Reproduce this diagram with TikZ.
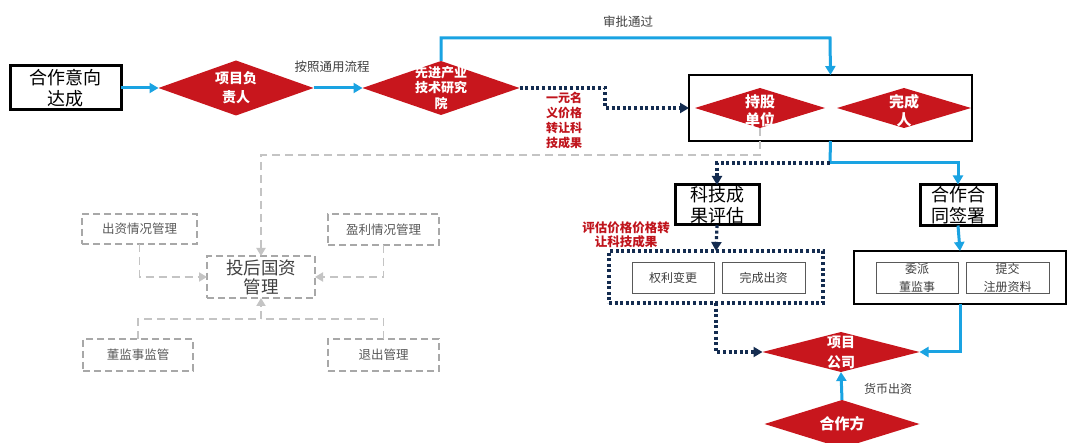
\documentclass[tikz,border=0pt]{standalone}
\usepackage{fontspec}
\setmainfont{Noto Sans CJK SC}
\usetikzlibrary{shapes.geometric,arrows.meta,calc}
\definecolor{cblue}{HTML}{1AA3E2}
\definecolor{cred}{HTML}{C8161D}
\definecolor{cnavy}{HTML}{142C50}
\definecolor{clab}{HTML}{C0141C}
\definecolor{cgl}{HTML}{C4C4C4}
\definecolor{cgb}{HTML}{A8A8A8}
\definecolor{ctxt}{HTML}{404040}
\definecolor{cgt}{HTML}{595959}
\begin{document}
\begin{tikzpicture}[x=1pt,y=-1pt,
  dia/.style={diamond, fill=cred, draw=none, inner sep=0pt, outer sep=0pt},
  dtext/.style={text=white, align=center, inner sep=0pt},
  blk/.style={draw=black, line width=3pt, fill=white, inner sep=0pt, outer sep=0pt, align=center, font=\fontsize{18}{20.5}\selectfont},
  frame/.style={draw=black, line width=2pt, inner sep=0pt, outer sep=0pt},
  inbox/.style={draw=cgt, line width=0.9pt, inner sep=0pt, outer sep=0pt, align=center, text=ctxt, font=\fontsize{12}{18}\selectfont},
  bl/.style={draw=cblue, line width=3pt, -{Triangle[length=9pt,width=10pt]}},
  blp/.style={draw=cblue, line width=3pt},
  nv/.style={draw=cnavy, line width=3.2pt, dash pattern=on 3pt off 2.6pt, -{Triangle[length=9pt,width=10pt]}},
  nvp/.style={draw=cnavy, line width=3.2pt, dash pattern=on 3pt off 2.6pt},
  gl/.style={draw=cgl, line width=1.8pt, dash pattern=on 8pt off 5pt},
  gla/.style={gl, -{Triangle[length=8pt,width=9pt]}},
  gbox/.style={draw=cgb, line width=1.6pt, dash pattern=on 7pt off 4pt, inner sep=0pt, outer sep=0pt, text=cgt, font=\fontsize{12.5}{15}\selectfont, align=center},
  lab/.style={text=ctxt, font=\fontsize{12.5}{15}\selectfont, inner sep=0pt},
  rlab/.style={text=clab, font=\bfseries\fontsize{12.5}{15}\selectfont, align=center, inner sep=0pt}
]
\fill[white] (0,0) rectangle (1080,443);
\useasboundingbox (0,0) rectangle (1080,443);

% top row
\node[blk, minimum width=111pt, minimum height=44pt] (hz) at (65.5,88) {合作意向\\达成};
\node[dia, minimum width=155pt, minimum height=55pt,
  label={[dtext, font=\bfseries\fontsize{14}{19}\selectfont]center:{项目负\\责人}}] (xm) at (236,88) {};
\node[dia, minimum width=157pt, minimum height=54pt,
  label={[dtext, font=\bfseries\fontsize{13}{15.5}\selectfont]center:{先进产业\\技术研究\\院}}] (xj) at (441,88) {};

% holding box
\node[frame, minimum width=283pt, minimum height=66pt] (cb) at (830.5,108) {};
\node[dia, minimum width=130pt, minimum height=40pt,
  label={[dtext, font=\bfseries\fontsize{15}{18}\selectfont, yshift=-3pt]center:{持股\\单位}}] (cg) at (760,108) {};
\node[dia, minimum width=134pt, minimum height=40pt,
  label={[dtext, font=\bfseries\fontsize{15}{18}\selectfont, yshift=-3pt]center:{完成\\人}}] (cw) at (904,108) {};

% second row
\node[blk, minimum width=84pt, minimum height=40pt] (kj) at (717,205) {科技成\\果评估};
\node[blk, minimum width=76pt, minimum height=41pt] (ht) at (958,205) {合作合\\同签署};

\node[draw=cnavy, line width=3.5pt, dash pattern=on 3pt off 2.6pt, inner sep=0pt, outer sep=0pt,
  minimum width=214pt, minimum height=52pt] (db) at (716,277) {};
\node[inbox, minimum width=82pt, minimum height=31pt] (q1) at (673,277.5) {权利变更};
\node[inbox, minimum width=83pt, minimum height=31pt] (q2) at (763.5,277.5) {完成出资};

\node[frame, minimum width=212pt, minimum height=53pt] (rb) at (960,277.5) {};
\node[inbox, minimum width=82pt, minimum height=31pt] (r1) at (917,277.5) {委派\\董监事};
\node[inbox, minimum width=83pt, minimum height=31pt] (r2) at (1007.5,277.5) {提交\\注册资料};

% bottom diamonds
\node[dia, minimum width=157pt, minimum height=40pt,
  label={[dtext, font=\bfseries\fontsize{14}{20}\selectfont]center:{项目\\公司}}] (xg) at (841,352) {};
\node[dia, minimum width=155pt, minimum height=48pt,
  label={[dtext, font=\bfseries\fontsize{15}{18}\selectfont]center:{合作方}}] (hzf) at (842,424) {};

% gray management
\node[gbox, minimum width=108pt, minimum height=42pt, text=ctxt, font=\fontsize{17.5}{19}\selectfont] (th) at (261,277) {投后国资\\管理};
\node[gbox, minimum width=115pt, minimum height=30pt] (cz) at (139.5,229) {出资情况管理};
\node[gbox, minimum width=111pt, minimum height=31pt] (yl) at (383.5,229.5) {盈利情况管理};
\node[gbox, minimum width=110pt, minimum height=32pt] (dj) at (138,355) {董监事监管};
\node[gbox, minimum width=111pt, minimum height=32pt] (tc) at (383.5,355) {退出管理};

% labels
\node[lab] (l1) at (332,67) {按照通用流程};
\node[lab] (l2) at (628,22) {审批通过};
\node[rlab, font=\bfseries\fontsize{12}{15}\selectfont] (l3) at (564,120) {一元名\\义价格\\转让科\\技成果};
\node[rlab, font=\bfseries\fontsize{12.5}{14}\selectfont] (l4) at (626,235) {评估价格价格转\\让科技成果};
\node[lab, font=\fontsize{12}{15}\selectfont] (l5) at (888,389) {货币出资};

% coordinates
\coordinate (t1) at (830,38);
\coordinate (d1) at (605,88);
\coordinate (b1) at (830,163);
\coordinate (g1) at (261,155);
\coordinate (g2) at (261,319);

% blue connectors
\draw[bl] (hz.east) -- (xm.west);
\draw[bl] (xm.east) -- (xj.west);
\draw[bl] (xj.north) |- (t1) -- (cb.north);
\draw[blp] (cb.south) -- (b1);
\draw[bl] (b1) -| (ht.north);
\draw[bl] (ht.south) -- (rb.north);
\draw[bl] (rb.south) |- (xg.east);
\draw[bl] (hzf.north) -- (xg.south);

% navy dotted connectors
\draw[nv] (xj.east) -- (d1) |- (cb.west);
\draw[nv] (b1) -| (kj.north);
\draw[nv] (kj.south) -- (db.north);
\draw[nv] (db.south) |- (xg.west);

% gray connectors
\draw[gla] (cg.south) |- (g1) -- (th.north);
\draw[gla] (cz.south) |- (th.west);
\draw[gla] (yl.south) |- (th.east);
\draw[gl] (dj.north) |- (g2);
\draw[gl] (tc.north) |- (g2);
\draw[gla] (g2) -- (th.south);
\end{tikzpicture}
\end{document}
